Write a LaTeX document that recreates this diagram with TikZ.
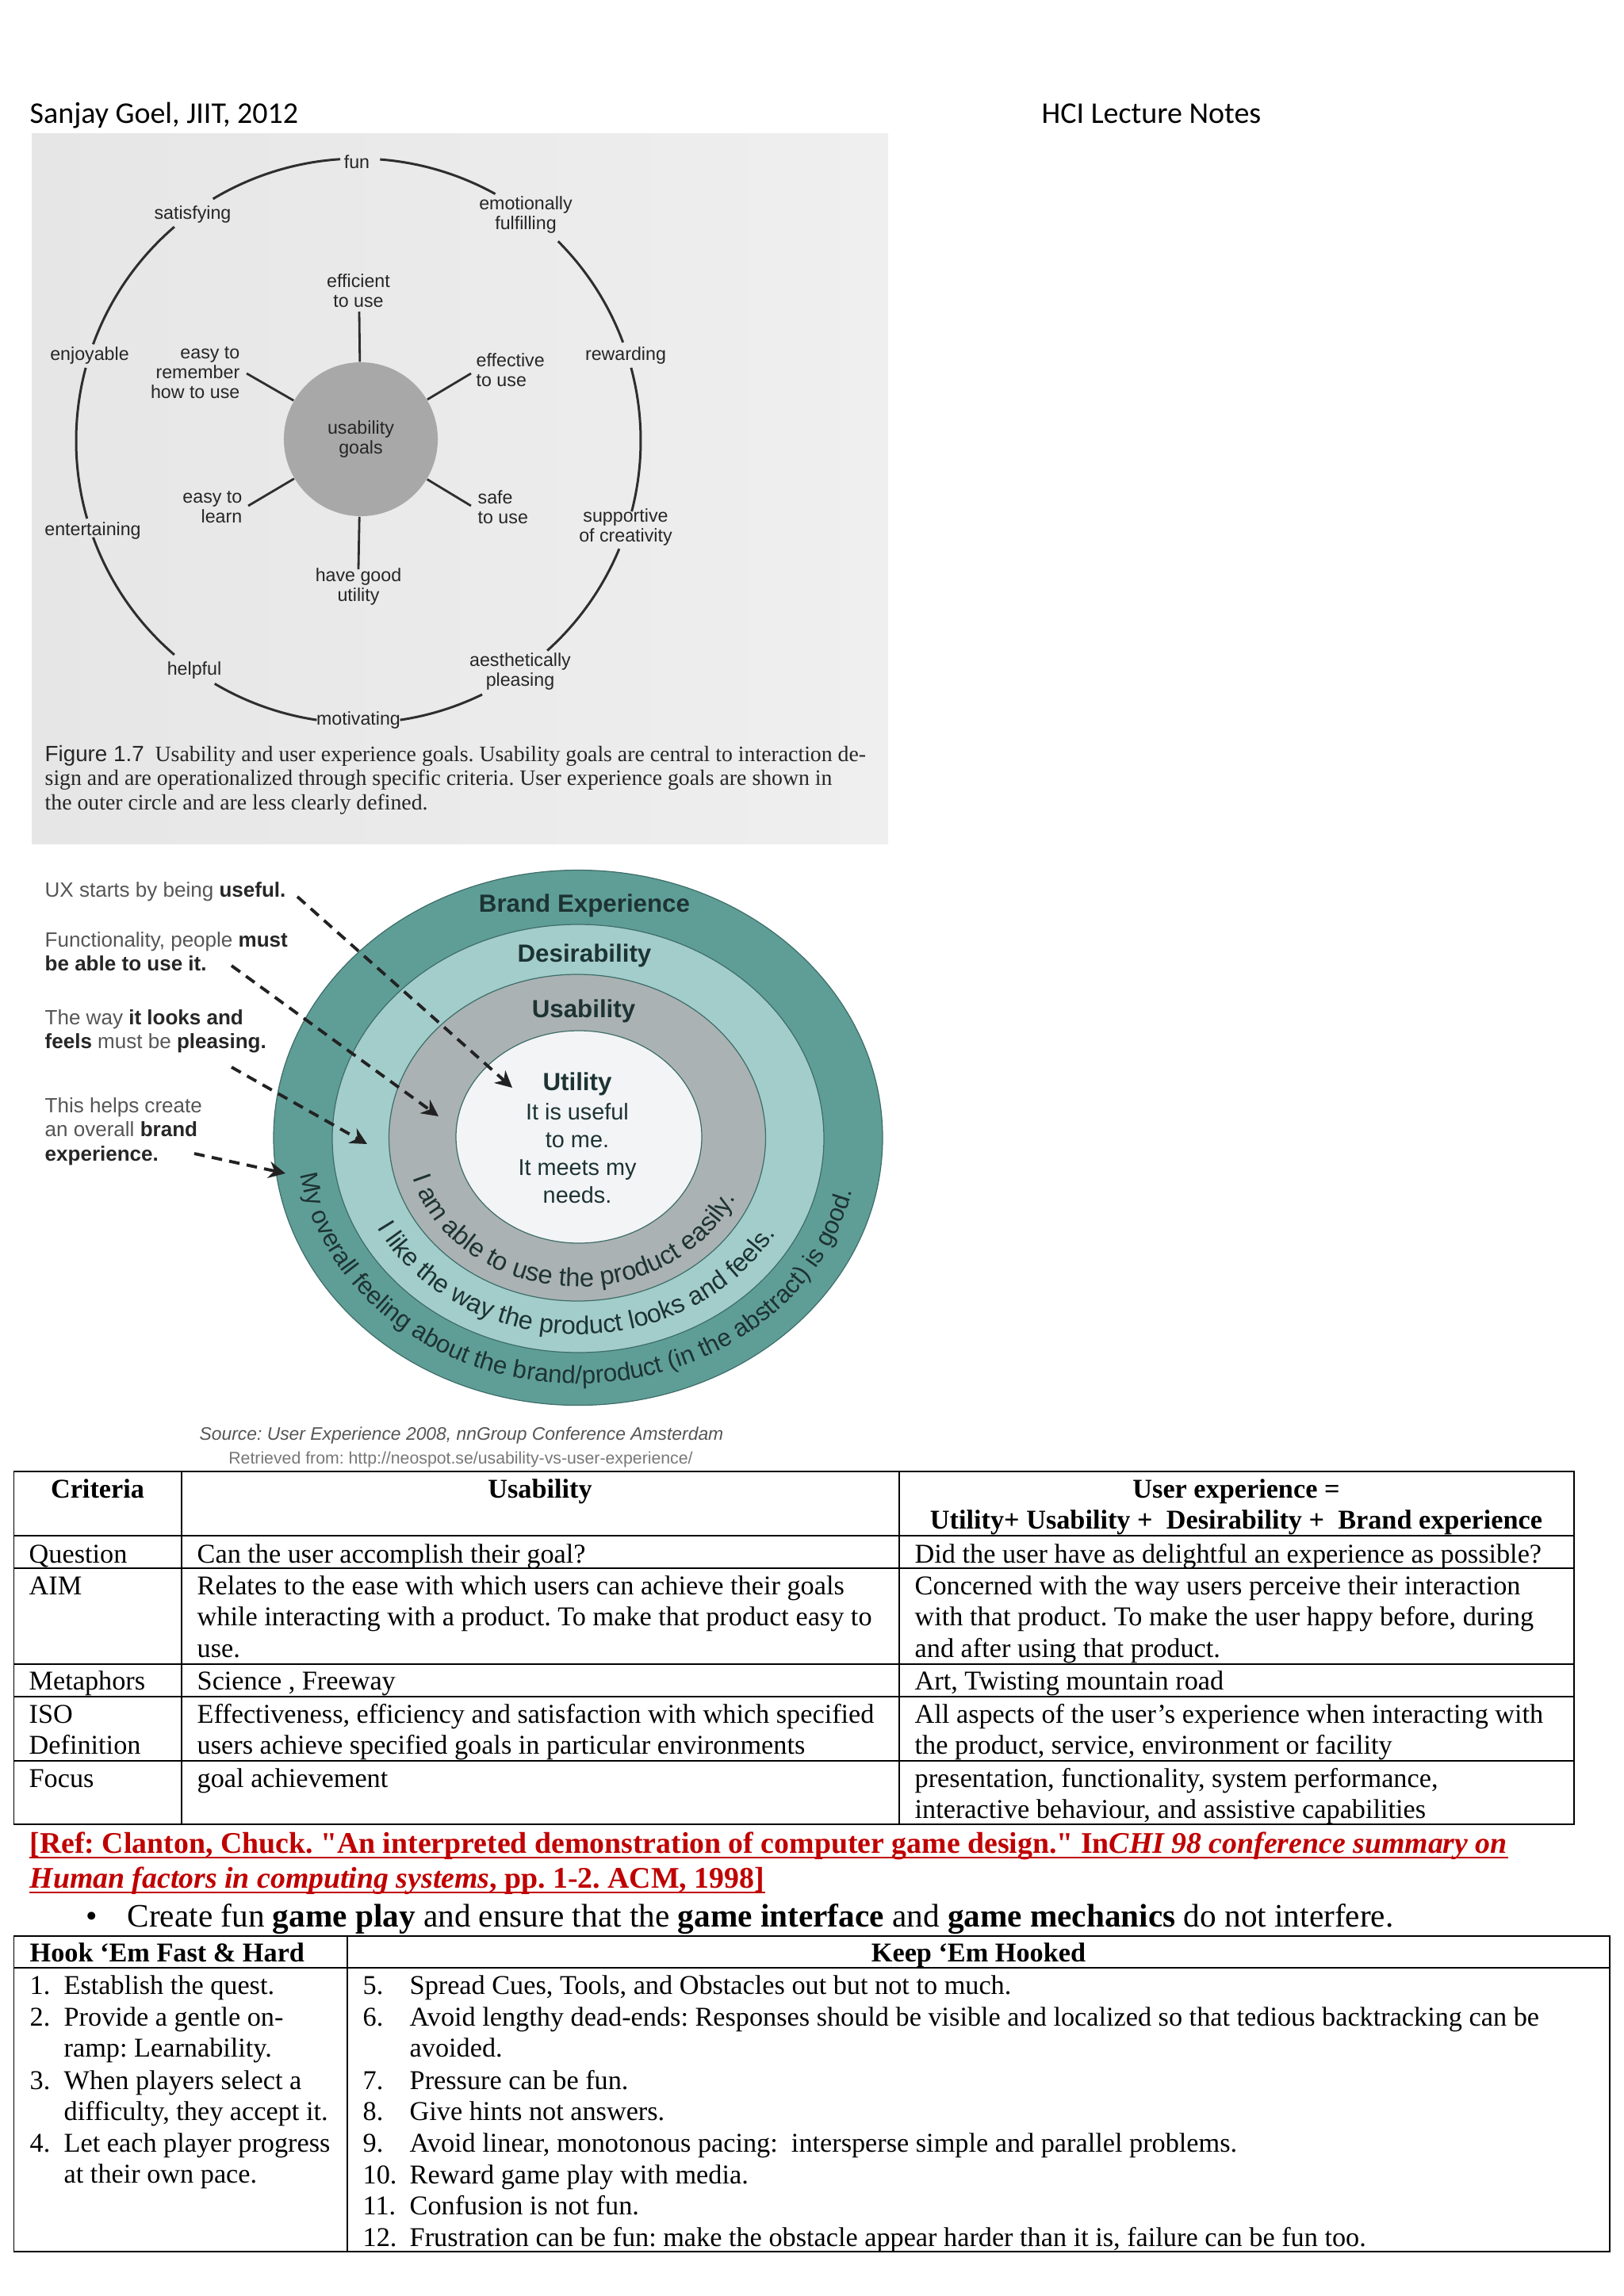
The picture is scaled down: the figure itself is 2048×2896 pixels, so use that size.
\documentclass[tikz,border=0pt]{standalone}
\usepackage{fontspec}
\setmainfont{Liberation Serif}
\setsansfont{Liberation Sans}
\newfontfamily\carlito{Carlito}
\newfontfamily\refserif{Liberation Serif}[Ligatures=TeXOff]
\usetikzlibrary{decorations.text,arrows.meta}
\frenchspacing
\definecolor{scanL}{HTML}{E6E6E6}
\definecolor{scanR}{HTML}{EFEFEF}
\definecolor{lab}{HTML}{262626}
\definecolor{arcc}{HTML}{2E2E2E}
\definecolor{goalgray}{HTML}{A8A8A8}
\definecolor{tealdark}{HTML}{5F9E97}
\definecolor{teallight}{HTML}{A3CDCB}
\definecolor{ringgray}{HTML}{ABB2B4}
\definecolor{ringwhite}{HTML}{F3F4F6}
\definecolor{ringline}{HTML}{3E6E69}
\definecolor{ringtext}{HTML}{1D3333}
\definecolor{uxgray}{HTML}{555555}
\definecolor{uxbold}{HTML}{262626}
\definecolor{arrowc}{HTML}{222222}
\definecolor{srcgray}{HTML}{555555}
\definecolor{retgray}{HTML}{777777}
\definecolor{refred}{RGB}{192,0,0}
\newcommand\mylines[2][l]{\begin{tabular}[t]{@{}#1@{}}#2\end{tabular}}
\newcommand\bk[1]{\textbf{\color{uxbold}#1}}
\begin{document}
\frenchspacing
\begin{tikzpicture}[x=0.01cm,y=0.01cm,
  hdr/.style={font=\carlito\fontsize{10.8}{13}\selectfont, inner sep=0, anchor=base west},
  glab/.style={font=\sffamily\fontsize{6.6}{7.1}\selectfont, text=lab, align=center, inner sep=0},
  goalarc/.style={draw=arcc, line width=0.85pt},
  spoke/.style={draw=arcc, line width=0.8pt},
  capt/.style={font=\fontsize{7.9}{8.8}\selectfont, text=lab, inner sep=0, anchor=base west},
  ring/.style={draw=ringline, line width=0.35pt},
  ringlab/.style={font=\sffamily\bfseries\fontsize{8.9}{10}\selectfont, text=ringtext, inner sep=0, anchor=base},
  ringtxt/.style={font=\sffamily\fontsize{8.2}{9.96}\selectfont, text=ringtext, inner sep=0, anchor=base},
  uxlab/.style={font=\sffamily\fontsize{7.4}{8.68}\selectfont, text=uxgray, inner sep=0, anchor=base west},
  uxarrow/.style={draw=arrowc, line width=1.1pt, dash pattern=on 3.8pt off 2.6pt, -{Stealth[length=6pt,width=6pt]}},
  tab/.style={font=\fontsize{9.74}{11.36}\selectfont, inner sep=0, anchor=base west},
  tabc/.style={tab, anchor=base},
  grid/.style={draw=black, line width=0.5pt},
  refs/.style={font=\refserif\bfseries\fontsize{10.75}{12.5}\selectfont, text=refred, inner sep=0, anchor=base west},
  refline/.style={draw=refred, line width=0.6pt}
]
\useasboundingbox (0,0) rectangle (2048,-2896);
\fill[white] (0,0) rectangle (2048,-2896);

% ---------- header ----------
\node[hdr] (auth) at (37,-155) {Sanjay Goel, JIIT, 2012};
\node[hdr] (notes) at (1313,-155) {HCI Lecture Notes};

% ---------- figure 1.7 ----------
\shade[left color=scanL, right color=scanR] (40,-168) rectangle (1120,-1064);
\foreach \a/\b in {61/85.6, 93.7/121, 130.7/160, 165/196, 200/229.3, 239.4/261.5, 278.5/296, 312/337.5, 345.5/375, 20.4/45}
  \draw[goalarc] ([shift={(\a:356)}]452,-556) arc[start angle=\a, end angle=\b, radius=356];
\node[glab, circle, fill=goalgray, minimum size=1.94cm] (ug) at (455,-554) {usability\\goals};
\node[glab] (fun) at (450,-204) {fun};
\node[glab] (emo) at (663,-271) {emotionally\\fulfilling};
\node[glab] (rew) at (789,-448) {rewarding};
\node[glab] (sup) at (789,-665) {supportive\\of creativity};
\node[glab] (aes) at (656,-847) {aesthetically\\pleasing};
\node[glab] (mot) at (452,-908) {motivating};
\node[glab] (hel) at (245,-845) {helpful};
\node[glab] (ent) at (117,-669) {entertaining};
\node[glab] (enj) at (113,-448) {enjoyable};
\node[glab] (sat) at (243,-270) {satisfying};
\node[glab] (eff) at (452,-367) {efficient\\to use};
\node[glab, align=right, anchor=east] (rem) at (303,-470) {easy to\\remember\\how to use};
\node[glab, align=left, anchor=west] (effe) at (600,-467) {effective\\to use};
\node[glab, align=right, anchor=east] (lea) at (306,-640) {easy to\\learn};
\node[glab, align=left, anchor=west] (saf) at (602,-640) {safe\\to use};
\node[glab] (hav) at (452,-740) {have good\\utility};
\coordinate (sU) at (453,-393);
\coordinate (sD) at (452,-718);
\coordinate (sUL) at (311,-471);
\coordinate (sUR) at (594,-471);
\coordinate (sLL) at (313,-638);
\coordinate (sLR) at (594,-638);
\foreach \t in {sU,sD,sUL,sUR,sLL,sLR} \draw[spoke] (ug) -- (\t);
\node[capt] (cap1) at (56,-960) {\textsf{Figure 1.7}\ \ Usability and user experience goals. Usability goals are central to interaction de-};
\node[capt] (cap2) at (56,-990) {sign and are operationalized through specific criteria. User experience goals are shown in};
\node[capt] (cap3) at (56,-1021) {the outer circle and are less clearly defined.};

% ---------- UX rings ----------
\filldraw[ring, fill=tealdark] (729,-1435) ellipse [x radius=384, y radius=337.5];
\filldraw[ring, fill=teallight] (729,-1436) ellipse [x radius=310, y radius=270];
\filldraw[ring, fill=ringgray] (728,-1435) ellipse [x radius=237.5, y radius=206];
\filldraw[ring, fill=ringwhite] (730,-1434) ellipse [x radius=155, y radius=134];
\node[ringlab] (brand) at (737,-1150) {Brand Experience};
\node[ringlab] (desir) at (737,-1213) {Desirability};
\node[ringlab] (usab) at (736,-1283) {Usability};
\node[ringlab] (util) at (728,-1375) {Utility};
\node[ringtxt] (utxt) at (728,-1412) {\mylines[c]{It is useful\\to me.\\It meets my\\needs.}};
\path[decorate, decoration={text along path, text align=center, text color=ringtext,
  text={|\sffamily\fontsize{9.3}{11}\selectfont|I am able to use the product easily.}}]
  ([shift={(176:217 and 188)}]729,-1435) arc[start angle=176, end angle=356, x radius=217, y radius=188];
\path[decorate, decoration={text along path, text align=center, text color=ringtext,
  text={|\sffamily\fontsize{9.2}{11}\selectfont|I like the way the product looks and feels.}}]
  ([shift={(179:285 and 248)}]729,-1435) arc[start angle=179, end angle=359, x radius=285, y radius=248];
\path[decorate, decoration={text along path, text align=center, text color=ringtext,
  text={|\sffamily\fontsize{8.9}{11}\selectfont|My overall feeling about the brand/product (in the abstract) is good.}}]
  ([shift={(178:354 and 310)}]729,-1435) arc[start angle=178, end angle=358, x radius=354, y radius=310];

\node[uxlab] (ux1) at (56,-1131) {UX starts by being \bk{useful.}};
\node[uxlab] (ux2) at (56,-1194) {\mylines{Functionality, people \bk{must}\\\bk{be able to use it.}}};
\node[uxlab] (ux3) at (56,-1292) {\mylines{The way \bk{it looks and}\\\bk{feels} must be \bk{pleasing.}}};
\node[uxlab] (ux4) at (56,-1403) {\mylines{This helps create\\an overall \bk{brand}\\\bk{experience.}}};
\coordinate (a1s) at (375,-1131); \coordinate (a1e) at (646,-1372);
\coordinate (a2s) at (292,-1218); \coordinate (a2e) at (553,-1408);
\coordinate (a3s) at (292,-1346); \coordinate (a3e) at (463,-1443);
\coordinate (a4s) at (245,-1455); \coordinate (a4e) at (360,-1480);
\draw[uxarrow] (a1s) -- (a1e);
\draw[uxarrow] (a2s) -- (a2e);
\draw[uxarrow] (a3s) -- (a3e);
\draw[uxarrow] (a4s) -- (a4e);
\node[font=\sffamily\itshape\fontsize{6.5}{8}\selectfont, text=srcgray, inner sep=0, anchor=base] (src) at (582,-1816) {Source: User Experience 2008, nnGroup Conference Amsterdam};
\node[font=\sffamily\fontsize{6.05}{7}\selectfont, text=retgray, inner sep=0, anchor=base] (ret) at (581,-1846) {Retrieved from: http://neospot.se/usability-vs-user-experience/};

% ---------- comparison table ----------
\draw[grid] (17.5,-1856) rectangle (1985,-2301);
\foreach \y in {1937,1978,2099,2140,2221} \draw[grid] (17.5,-\y) -- (1985,-\y);
\foreach \x in {229,1134} \draw[grid] (\x,-1856) -- (\x,-2301);
\node[tabc, font=\bfseries\fontsize{9.74}{11.36}\selectfont] (hcrit) at (123,-1889) {Criteria};
\node[tabc, font=\bfseries\fontsize{9.74}{11.36}\selectfont] (husab) at (681,-1889) {Usability};
\node[tabc, font=\bfseries\fontsize{9.74}{11.36}\selectfont] (hux) at (1559,-1889) {\mylines[c]{User experience =\\Utility+ Usability +\ \ Desirability +\ \ Brand experience}};
\node[tab] (cq) at (36,-1971) {Question};
\node[tab] (uq) at (248,-1971) {Can the user accomplish their goal?};
\node[tab] (xq) at (1153,-1971) {Did the user have as delightful an experience as possible?};
\node[tab] (ca) at (36,-2011) {AIM};
\node[tab] (ua) at (248,-2011) {\mylines{Relates to the ease with which users can achieve their goals\\while interacting with a product. To make that product easy to\\use.}};
\node[tab] (xa) at (1153,-2011) {\mylines{Concerned with the way users perceive their interaction\\with that product. To make the user happy before, during\\and after using that product.}};
\node[tab] (cm) at (36,-2131) {Metaphors};
\node[tab] (um) at (248,-2131) {Science , Freeway};
\node[tab] (xm) at (1153,-2131) {Art, Twisting mountain road};
\node[tab] (ci) at (36,-2173) {\mylines{ISO\\Definition}};
\node[tab] (ui) at (248,-2173) {\mylines{Effectiveness, efficiency and satisfaction with which specified\\users achieve specified goals in particular environments}};
\node[tab] (xi) at (1153,-2173) {\mylines{All aspects of the user’s experience when interacting with\\the product, service, environment or facility}};
\node[tab] (cf) at (36,-2254) {Focus};
\node[tab] (uf) at (248,-2254) {goal achievement};
\node[tab] (xf) at (1153,-2254) {\mylines{presentation, functionality, system performance,\\interactive behaviour, and assistive capabilities}};

% ---------- reference ----------
\node[refs] (ref1) at (37,-2337) {[Ref: Clanton, Chuck. "An interpreted demonstration of computer game design." In\textit{CHI 98 conference summary on}};
\node[refs] (ref2) at (37,-2381) {\textit{Human factors in computing systems}, pp. 1-2. ACM, 1998]};
\draw[refline] ([yshift=-1.7pt]ref1.base west) -- ([yshift=-1.7pt]ref1.base east);
\draw[refline] ([yshift=-1.7pt]ref2.base west) -- ([yshift=-1.7pt]ref2.base east);

% ---------- bullet ----------
\node[tab, font=\fontsize{11.73}{13.5}\selectfont] (bul) at (108,-2430) {\textbullet};
\node[tab, font=\fontsize{11.73}{13.5}\selectfont] (crt) at (160,-2430) {Create fun \textbf{game play} and ensure that the \textbf{game interface} and \textbf{game mechanics} do not interfere.};

% ---------- hook table ----------
\draw[grid] (17.5,-2442) rectangle (2030,-2840);
\draw[grid] (17.5,-2482) -- (2030,-2482);
\draw[grid] (438,-2442) -- (438,-2840);
\node[tab, font=\bfseries\fontsize{9.74}{11.36}\selectfont] (hk1) at (37,-2474) {Hook ‘Em Fast \& Hard};
\node[tabc, font=\bfseries\fontsize{9.74}{11.36}\selectfont] (hk2) at (1234,-2474) {Keep ‘Em Hooked};
\node[tab] (h1n) at (37,-2515) {1.};
\node[tab] (h1) at (80,-2515) {Establish the quest.};
\node[tab] (h2n) at (37,-2555) {2.};
\node[tab] (h2) at (80,-2555) {\mylines{Provide a gentle on-\\ramp: Learnability.}};
\node[tab] (h3n) at (37,-2635) {3.};
\node[tab] (h3) at (80,-2635) {\mylines{When players select a\\difficulty, they accept it.}};
\node[tab] (h4n) at (37,-2714) {4.};
\node[tab] (h4) at (80,-2714) {\mylines{Let each player progress\\at their own pace.}};
\node[tab] (k5n) at (457,-2515) {5.};
\node[tab] (k5) at (516,-2515) {Spread Cues, Tools, and Obstacles out but not to much.};
\node[tab] (k6n) at (457,-2555) {6.};
\node[tab] (k6) at (516,-2555) {\mylines{Avoid lengthy dead-ends: Responses should be visible and localized so that tedious backtracking can be\\avoided.}};
\node[tab] (k7n) at (457,-2635) {7.};
\node[tab] (k7) at (516,-2635) {Pressure can be fun.};
\node[tab] (k8n) at (457,-2674) {8.};
\node[tab] (k8) at (516,-2674) {Give hints not answers.};
\node[tab] (k9n) at (457,-2714) {9.};
\node[tab] (k9) at (516,-2714) {Avoid linear, monotonous pacing:\ \ intersperse simple and parallel problems.};
\node[tab] (k10n) at (457,-2754) {10.};
\node[tab] (k10) at (516,-2754) {Reward game play with media.};
\node[tab] (k11n) at (457,-2793) {11.};
\node[tab] (k11) at (516,-2793) {Confusion is not fun.};
\node[tab] (k12n) at (457,-2833) {12.};
\node[tab] (k12) at (516,-2833) {Frustration can be fun: make the obstacle appear harder than it is, failure can be fun too.};
\end{tikzpicture}
\end{document}
